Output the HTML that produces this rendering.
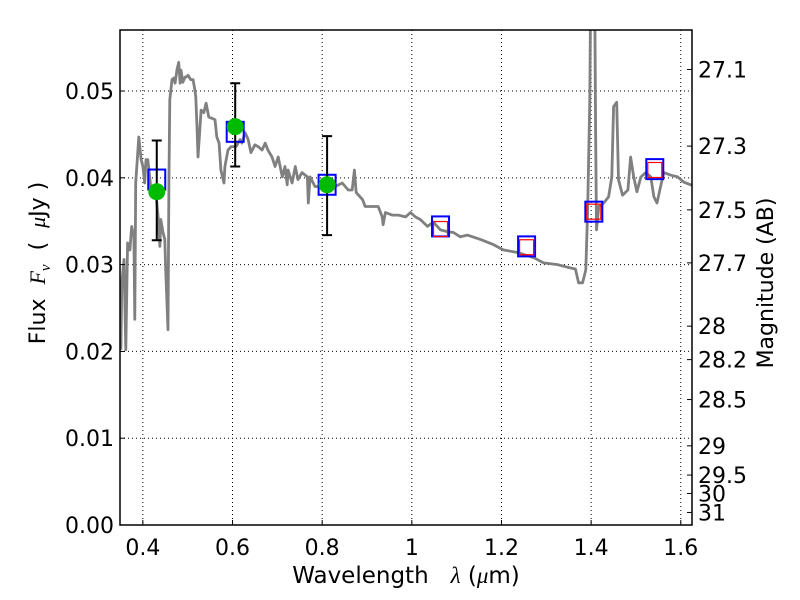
<!DOCTYPE html>
<html><head><meta charset="utf-8"><style>
html,body{margin:0;padding:0;background:#fff;}
svg{display:block;font-family:"DejaVu Sans","Liberation Sans",sans-serif;}
</style></head><body>
<svg id="chart" width="800" height="600" viewBox="0 0 800 600" xmlns="http://www.w3.org/2000/svg">
<rect x="0" y="0" width="800" height="600" fill="#fff"/>
<g id="grid"></g>
<g id="plot"></g>
<g id="axes"></g>
<text x="406" y="583" font-size="23" text-anchor="middle">Wavelength&#160;&#160;&#160;<tspan font-family="Liberation Serif,serif" font-style="italic">λ</tspan>&#160;(<tspan font-family="Liberation Serif,serif" font-style="italic">μ</tspan>m)</text>
<text transform="translate(45,263) rotate(-90)" font-size="22" text-anchor="middle">Flux&#160;&#160;<tspan font-family="Liberation Serif,serif" font-style="italic">F<tspan font-size="15" dy="5">ν</tspan></tspan><tspan dy="-5">&#160;&#160;(&#160;&#160;</tspan><tspan font-family="Liberation Serif,serif" font-style="italic">μ</tspan>Jy&#160;)</text>
<text transform="translate(773,283) rotate(-90)" font-size="22" text-anchor="middle">Magnitude (AB)</text>
</svg>
<script>
const specLam=[0.351,0.353,0.358,0.362,0.366,0.371,0.375,0.380,0.382,0.384,0.391,0.396,0.400,0.404,0.407,0.411,0.416,0.418,0.425,0.429,0.434,0.438,0.440,0.445,0.449,0.451,0.456,0.458,0.460,0.465,0.469,0.472,0.476,0.480,0.483,0.485,0.489,0.494,0.496,0.501,0.507,0.512,0.516,0.518,0.521,0.523,0.527,0.530,0.536,0.541,0.547,0.552,0.561,0.565,0.570,0.574,0.581,0.583,0.590,0.597,0.603,0.608,0.617,0.621,0.628,0.635,0.641,0.650,0.657,0.666,0.673,0.679,0.688,0.695,0.702,0.711,0.717,0.722,0.724,0.733,0.740,0.746,0.755,0.767,0.769,0.773,0.784,0.800,0.813,0.829,0.845,0.858,0.867,0.872,0.876,0.890,0.896,0.912,0.925,0.934,0.936,0.941,0.956,0.970,0.986,0.997,1.008,1.019,1.035,1.048,1.064,1.079,1.093,1.108,1.124,1.153,1.182,1.204,1.236,1.272,1.294,1.325,1.347,1.365,1.372,1.381,1.388,1.392,1.397,1.399,1.408,1.410,1.412,1.417,1.428,1.439,1.446,1.450,1.457,1.461,1.470,1.482,1.488,1.495,1.502,1.511,1.522,1.533,1.540,1.547,1.555,1.562,1.578,1.593,1.607,1.622,1.629];
const specFlux=[0.0202,0.0279,0.0306,0.0202,0.0325,0.0317,0.0344,0.0332,0.0237,0.0394,0.0447,0.0421,0.0413,0.0394,0.0421,0.0421,0.0398,0.0386,0.0386,0.0383,0.0355,0.0321,0.0352,0.0337,0.0329,0.0294,0.0225,0.0394,0.0490,0.0513,0.0515,0.0509,0.0524,0.0533,0.0509,0.0524,0.0510,0.0516,0.0516,0.0518,0.0513,0.0513,0.0501,0.0493,0.0455,0.0424,0.0455,0.0478,0.0475,0.0486,0.0470,0.0469,0.0467,0.0447,0.0440,0.0409,0.0394,0.0413,0.0432,0.0436,0.0436,0.0436,0.0444,0.0440,0.0452,0.0444,0.0429,0.0438,0.0436,0.0432,0.0440,0.0432,0.0424,0.0413,0.0424,0.0401,0.0413,0.0392,0.0409,0.0394,0.0413,0.0398,0.0406,0.0401,0.0371,0.0401,0.0390,0.0390,0.0390,0.0390,0.0394,0.0386,0.0386,0.0409,0.0383,0.0375,0.0367,0.0367,0.0367,0.0355,0.0346,0.0360,0.0357,0.0357,0.0355,0.0360,0.0355,0.0352,0.0344,0.0349,0.0340,0.0338,0.0337,0.0332,0.0334,0.0329,0.0323,0.0317,0.0314,0.0308,0.0302,0.0300,0.0297,0.0295,0.0279,0.0279,0.0294,0.0360,0.0490,0.0620,0.0620,0.0455,0.0340,0.0367,0.0371,0.0378,0.0401,0.0482,0.0487,0.0398,0.0380,0.0386,0.0424,0.0401,0.0384,0.0401,0.0406,0.0401,0.0378,0.0371,0.0390,0.0406,0.0403,0.0401,0.0395,0.0392,0.0392];
const obsLam=[0.431,0.606,0.811];
const obsFlux=[0.0384,0.0459,0.0392];
const obsErrLo=[0.0328,0.0413,0.0334];
const obsErrHi=[0.0443,0.0509,0.0448];
const modLam=[0.431,0.606,0.811,1.064,1.256,1.406,1.542];
const modFlux=[0.0398,0.0453,0.0392,0.0344,0.0321,0.0361,0.0410];
const synLam=[1.064,1.256,1.406,1.542];
const synFlux=[0.0341,0.0320,0.0361,0.0409];
const xTicks=[0.4,0.6,0.8,1.0,1.2,1.4,1.6];
const xTickLabels=["0.4","0.6","0.8","1","1.2","1.4","1.6"];
const yTicks=[0,0.01,0.02,0.03,0.04,0.05];
const yTickLabels=["0.00","0.01","0.02","0.03","0.04","0.05"];
const magTicks=[27.1,27.3,27.5,27.7,28,28.2,28.5,29,29.5,30,31];
const magTickLabels=["27.1","27.3","27.5","27.7","28","28.2","28.5","29","29.5","30","31"];

const L=120,R=692,T=30,B=525,XMIN=0.349,XMAX=1.625,YMIN=0,YMAX=0.05703;
const NS="http://www.w3.org/2000/svg";
function X(v){return L+(v-XMIN)/(XMAX-XMIN)*(R-L);}
function Y(v){return B-(v-YMIN)/(YMAX-YMIN)*(B-T);}
function magToFlux(m){return Math.pow(10,(23.9-m)/2.5);}
function mk(tag,attrs,parent){const e=document.createElementNS(NS,tag);for(const k in attrs)e.setAttribute(k,attrs[k]);parent.appendChild(e);return e;}
const grid=document.getElementById('grid'),plot=document.getElementById('plot'),axes=document.getElementById('axes');

const defs=mk('defs',{},document.getElementById('chart'));
const cp=mk('clipPath',{id:'clip'},defs);mk('rect',{x:L,y:T,width:R-L,height:B-T},cp);
plot.setAttribute('clip-path','url(#clip)');

xTicks.forEach((t,i)=>{
  const gl=mk('line',{x1:X(t),x2:X(t),y1:T,y2:B,stroke:'#000','stroke-width':1,'stroke-dasharray':'1,3'},grid);
  
  
  const tk=mk('line',{x1:X(t),x2:X(t),y1:B,y2:B-5,stroke:'#000','stroke-width':1},axes);
  
  
  const lb=mk('text',{x:X(t),y:555,'font-size':22,'text-anchor':'middle'},axes);
  lb.textContent=xTickLabels[i];
  
  
});
yTicks.forEach((t,i)=>{
  if(t>0){
    const gl=mk('line',{x1:L,x2:R,y1:Y(t),y2:Y(t),stroke:'#000','stroke-width':1,'stroke-dasharray':'1,3'},grid);
    
    
  }
  const tk=mk('line',{x1:L,x2:L+5,y1:Y(t),y2:Y(t),stroke:'#000','stroke-width':1},axes);
  
  
  const lb=mk('text',{x:114,y:Y(t)+8,'font-size':22,'text-anchor':'end'},axes);
  lb.textContent=yTickLabels[i];
  
  
});
magTicks.forEach((m,i)=>{
  const y=Y(magToFlux(m));
  const tk=mk('line',{x1:R-5,x2:R,y1:y,y2:y,stroke:'#000','stroke-width':1},axes);
  
  
  const lb=mk('text',{x:698,y:y+8,'font-size':22},axes);
  lb.textContent=magTickLabels[i];
  
  
});

let d='';specLam.forEach((l,i)=>{d+=(i?'L':'M')+X(l).toFixed(1)+','+Y(specFlux[i]).toFixed(1);});
const sp=mk('path',{d:d,fill:'none',stroke:'#808080','stroke-width':2.8,'stroke-linejoin':'round'},plot);



modLam.forEach((l,i)=>{
  const r=mk('rect',{x:X(l)-8.5,y:Y(modFlux[i])-10,width:17,height:20,fill:'none',stroke:'#0000ff','stroke-width':2},plot);
  
  
});
synLam.forEach((l,i)=>{
  const r=mk('rect',{x:X(l)-7,y:Y(synFlux[i])-7.5,width:14,height:15,fill:'none',stroke:'#ff0000','stroke-width':1.2},plot);
  
  
});
obsLam.forEach((l,i)=>{
  const x=X(l);
  const e=mk('path',{d:`M${x},${Y(obsErrLo[i])}L${x},${Y(obsErrHi[i])}M${x-5},${Y(obsErrLo[i])}L${x+5},${Y(obsErrLo[i])}M${x-5},${Y(obsErrHi[i])}L${x+5},${Y(obsErrHi[i])}`,stroke:'#000','stroke-width':2,fill:'none'},plot);
  
  
  const c=mk('circle',{cx:x,cy:Y(obsFlux[i]),r:8.5,fill:'#00bb00'},plot);
  
  
});
const fr=mk('rect',{x:L,y:T,width:R-L,height:B-T,fill:'none',stroke:'#000','stroke-width':1.5},axes);


</script>
</body></html>
